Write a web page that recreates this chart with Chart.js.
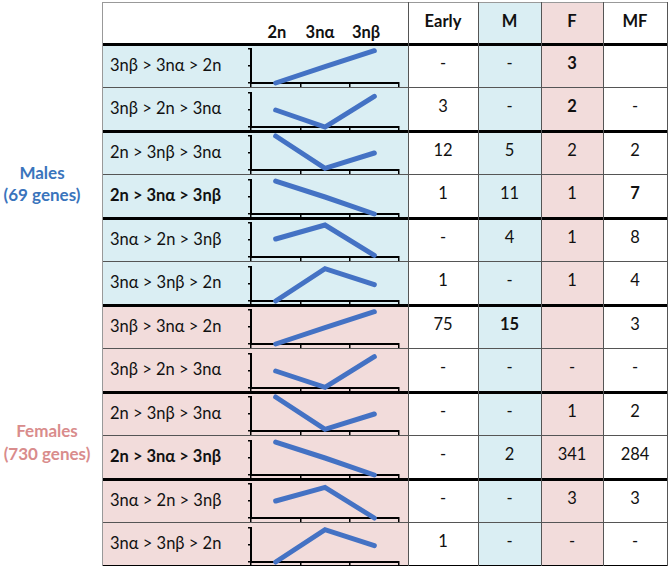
<!DOCTYPE html>
<html><head><meta charset="utf-8">
<script src="https://cdn.jsdelivr.net/npm/chart.js@4.4.0/dist/chart.umd.min.js"></script>
<style>
html,body{margin:0;padding:0;background:#fff;}
#wrap{position:relative;width:670px;height:566px;overflow:hidden;background:#fff;font-family:Lato,"Open Sans",sans-serif;color:#111;}
.bg,.ln,.tx{position:absolute;}
.tx{white-space:nowrap;font-size:16.5px;line-height:1;}
.c{transform:translate(-50%,-50%);}
.l{transform:translate(0,-50%);}
canvas{position:absolute;}
</style></head>
<body><div id="wrap"></div>
<script>
// ---- data ----
const stages = ['2n', '3nα', '3nβ'];
const patterns = ['3nβ > 3nα > 2n', '3nβ > 2n > 3nα', '2n > 3nβ > 3nα', '2n > 3nα > 3nβ', '3nα > 2n > 3nβ', '3nα > 3nβ > 2n'];
const boldPattern = [false, false, false, true, false, false];
const maleProfiles = [[0, 0.48, 0.95], [0.5, 0, 0.9], [1, 0.05, 0.5], [0.97, 0.5, 0], [0.53, 0.94, 0.05], [0, 0.95, 0.48]];
const femaleProfiles = [[0, 0.48, 0.95], [0.5, 0.02, 0.92], [1, 0.05, 0.5], [0.97, 0.5, 0], [0.5, 0.9, 0], [0, 0.95, 0.48]];
const columns = ['Early', 'M', 'F', 'MF'];
const maleEarly = ['-', '3', '12', '1', '-', '1'];
const maleM = ['-', '-', '5', '11', '4', '-'];
const maleF = ['3', '2', '2', '1', '1', '1'];
const maleMF = ['', '-', '2', '7', '8', '4'];
const femaleEarly = ['75', '-', '-', '-', '-', '1'];
const femaleM = ['15', '-', '-', '2', '-', '-'];
const femaleF = ['', '-', '1', '341', '3', '-'];
const femaleMF = ['3', '-', '2', '284', '3', '-'];
const maleBold = [[], [], [0, 1], [3]];     // per column: bold row indexes
const femaleBold = [[], [0], [], []];
const groups = [
  {name: 'Males', genes: '(69 genes)'},
  {name: 'Females', genes: '(730 genes)'}
];

// ---- layout ----
const BLUE = '#DAEEF3', PINK = '#F2DCDB', LINE = '#4472C4';
const wrap = document.getElementById('wrap');
const colX = [102, 408, 478, 541, 603, 667];
const headTop = 2, headBot = 44, rowH = 43.5;
function el(cls, css, text) {
  const d = document.createElement('div');
  d.className = cls;
  Object.assign(d.style, css);
  if (text !== undefined) d.textContent = text;
  wrap.appendChild(d);
  return d;
}
const colBgHead = ['#fff', BLUE, PINK, '#fff'];
for (let c = 0; c < 4; c++) {
  el('bg', {left: colX[c+1]+'px', top: headTop+'px', width: (colX[c+2]-colX[c+1])+'px', height: (566-headTop)+'px', background: colBgHead[c]});
}
const rows = [];
for (let g = 0; g < 2; g++) for (let i = 0; i < 6; i++) rows.push({g, i});
rows.forEach((r, k) => {
  const top = headBot + k * rowH;
  el('bg', {left: colX[0]+'px', top: top+'px', width: (colX[1]-colX[0])+'px', height: rowH+'px', background: r.g === 0 ? BLUE : PINK});
  el('tx l', {left: '110px', top: (top + rowH/2 - 1)+'px', fontWeight: boldPattern[r.i] ? '700' : '400'}, patterns[r.i]);
  const vals = r.g === 0 ? [maleEarly, maleM, maleF, maleMF] : [femaleEarly, femaleM, femaleF, femaleMF];
  const bold = r.g === 0 ? maleBold : femaleBold;
  for (let c = 0; c < 4; c++) {
    el('tx c', {left: ((colX[c+1]+colX[c+2])/2)+'px', top: (top + rowH/2 - 3)+'px', fontWeight: bold[c].includes(r.i) ? '700' : '400'}, vals[c][r.i]);
  }
});
columns.forEach((t, c) => {
  el('tx c', {left: ((colX[c+1]+colX[c+2])/2)+'px', top: '21px', fontWeight: '700'}, t);
});
const stageX = [277, 320, 366];
stages.forEach((s, j) => el('tx c', {left: stageX[j]+'px', top: '32px', fontWeight: '700'}, s));
el('tx c', {left: '42px', top: '172px', fontWeight: '700', color: '#3A74BC', fontSize: '17px'}, groups[0].name);
el('tx c', {left: '42px', top: '194px', fontWeight: '700', color: '#3A74BC', fontSize: '17px'}, groups[0].genes);
el('tx c', {left: '47px', top: '430px', fontWeight: '700', color: '#D98C8C', fontSize: '17px'}, groups[1].name);
el('tx c', {left: '47px', top: '453px', fontWeight: '700', color: '#D98C8C', fontSize: '17px'}, groups[1].genes);
el('ln', {left: colX[0]+'px', top: headTop+'px', width: (colX[5]-colX[0])+'px', height: '1px', background: '#999'});
for (let k = 0; k <= 12; k++) {
  const y = headBot + k * rowH;
  if (k % 2 === 0) el('ln', {left: colX[0]+'px', top: (y-1.5)+'px', width: (colX[5]-colX[0]+1)+'px', height: '3px', background: '#000'});
  else el('ln', {left: colX[0]+'px', top: (y-0.5)+'px', width: (colX[5]-colX[0])+'px', height: '1px', background: '#555'});
}
el('ln', {left: colX[0]+'px', top: headTop+'px', width: '1px', height: (566-headTop)+'px', background: '#999'});
for (let c = 1; c < 6; c++) el('ln', {left: colX[c]+'px', top: headTop+'px', width: '1px', height: (566-headTop)+'px', background: '#555'});

rows.forEach((r, k) => {
  const top = Math.round(headBot + k * rowH) + 1;
  const cv = document.createElement('canvas');
  cv.width = 165; cv.height = 42;
  cv.style.left = '240px'; cv.style.top = top + 'px';
  cv.style.width = '165px'; cv.style.height = '42px';
  wrap.appendChild(cv);
  const data = r.g === 0 ? maleProfiles[r.i] : femaleProfiles[r.i];
  new Chart(cv, {
    type: 'line',
    data: {labels: stages, datasets: [{data, borderColor: LINE, borderWidth: 5, pointRadius: 0, borderCapStyle: 'round', borderJoinStyle: 'miter', clip: false, tension: 0}]},
    options: {
      responsive: false, animation: false, devicePixelRatio: 1, events: [],
      layout: {padding: {left: 8, right: 6, top: 4, bottom: 0}},
      plugins: {legend: {display: false}, tooltip: {enabled: false}},
      scales: {
        x: {offset: true, ticks: {display: false}, grid: {offset: true, drawOnChartArea: false, drawTicks: true, tickLength: 4, color: '#000', lineWidth: 1.5}, border: {display: true, color: '#000', width: 2}},
        y: {min: 0, max: 1, ticks: {display: false, stepSize: 0.5}, grid: {drawOnChartArea: false, drawTicks: true, tickLength: 3, color: '#000', lineWidth: 1.5}, border: {display: true, color: '#000', width: 2}}
      }
    }
  });
});
</script></body></html>
